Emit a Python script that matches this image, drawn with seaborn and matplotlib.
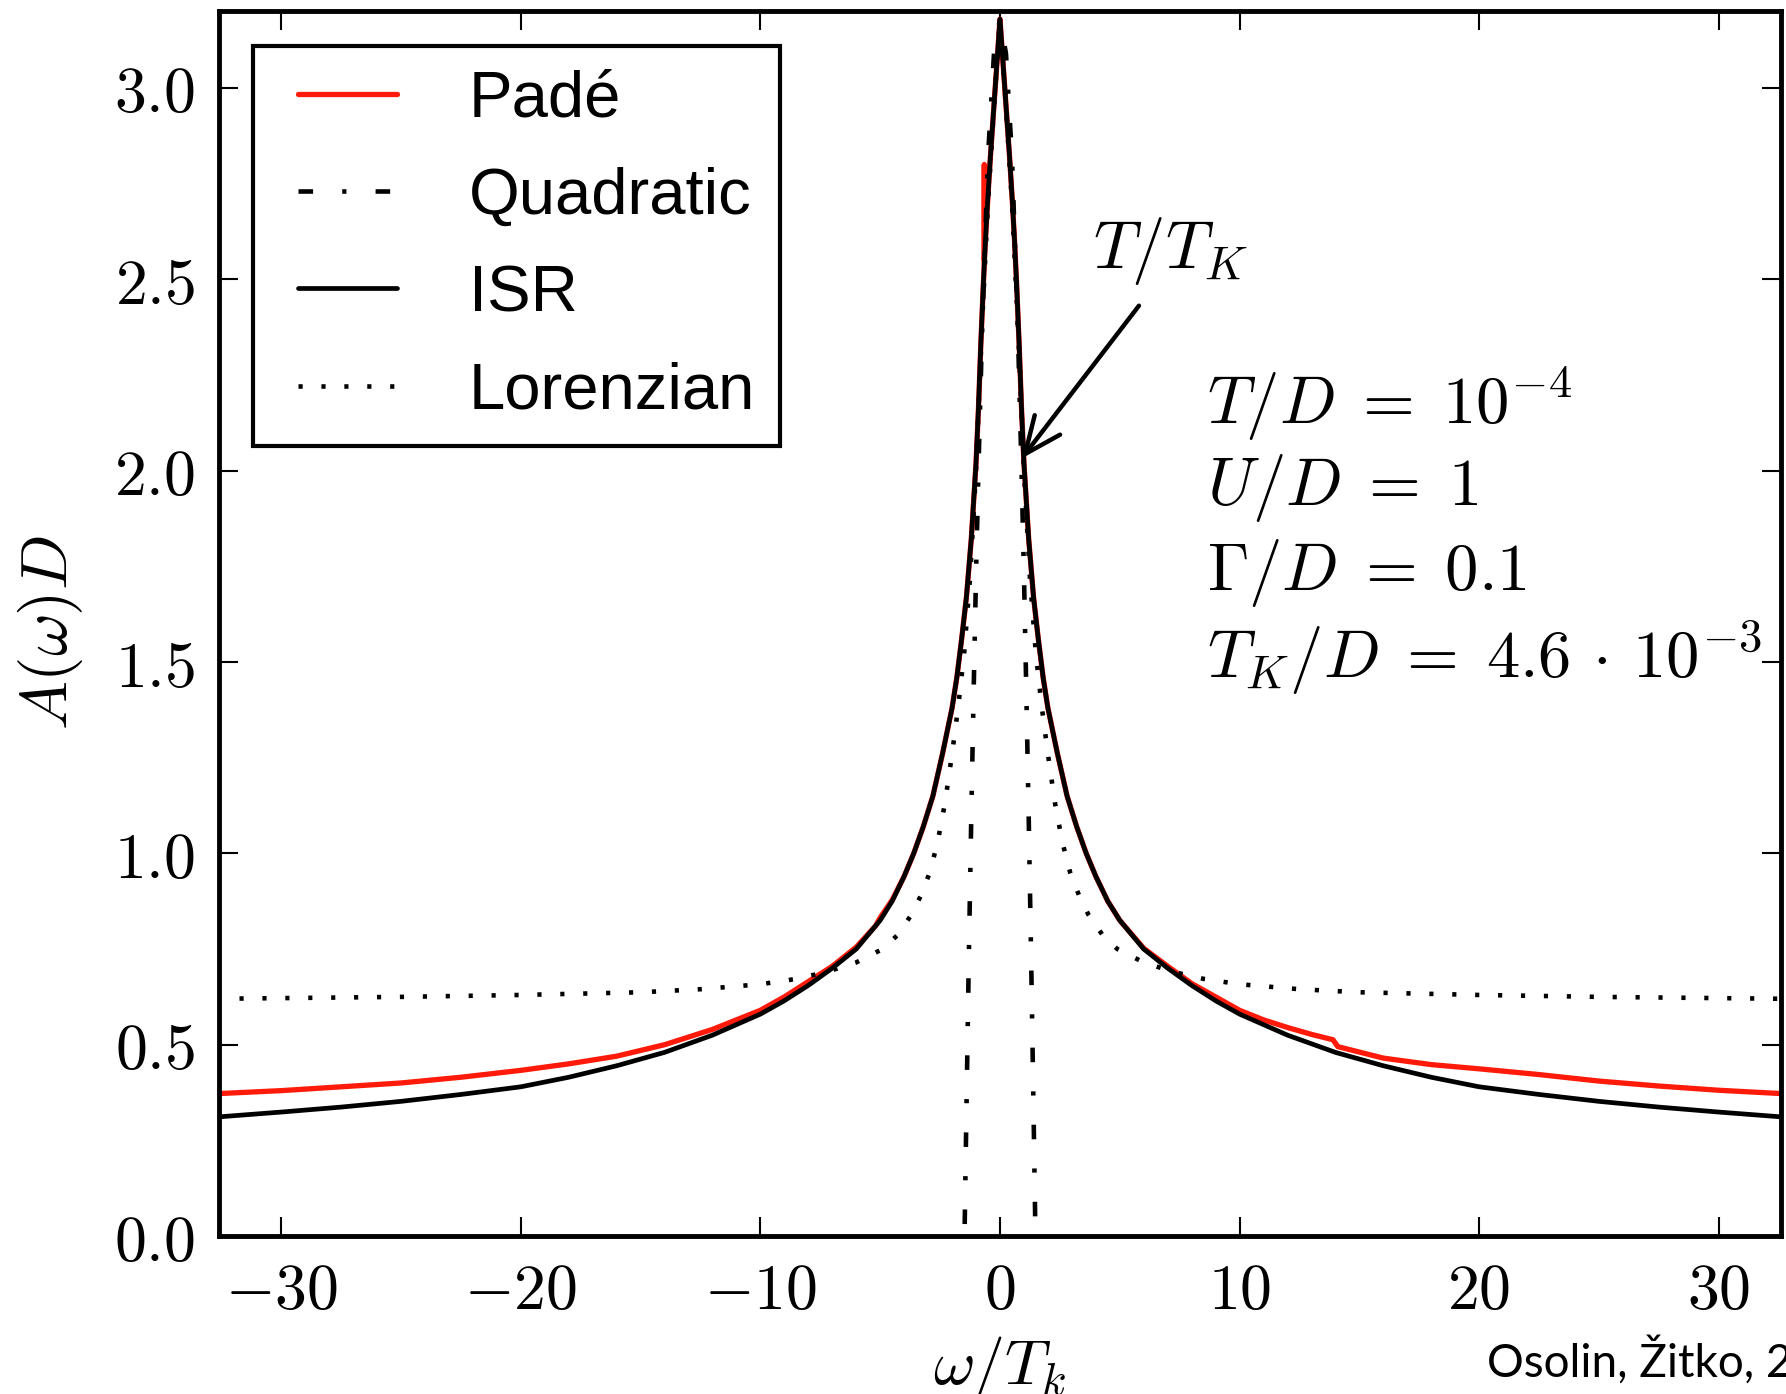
import numpy as np
import pandas as pd
import matplotlib
matplotlib.use("Agg")
import matplotlib.pyplot as plt
import seaborn as sns
from matplotlib.ticker import FuncFormatter, FixedLocator
from matplotlib.lines import Line2D
from matplotlib.legend_handler import HandlerLine2D

# ---------------- data ----------------
omega_isr = [-32.7, -30, -27.5, -25, -22.5, -20, -18, -16, -14, -12, -10, -9, -8, -7, -6,
             -5, -4.5, -4, -3.6, -3.2, -2.8, -2.4, -2.0, -1.8, -1.6, -1.4, -1.2, -1.0,
             -0.9, -0.8, -0.7, -0.6, -0.5, -0.4, -0.3, -0.2, -0.1, 0,
             0.1, 0.2, 0.3, 0.4, 0.5, 0.6, 0.7, 0.8, 0.9, 1.0, 1.2, 1.4, 1.6, 1.8, 2.0,
             2.4, 2.8, 3.2, 3.6, 4.0, 4.5, 5.0, 6, 7, 8, 9, 10, 12, 14, 16, 18, 20,
             22.5, 25, 27.5, 30, 32.7]
a_isr = [0.311, 0.324, 0.337, 0.352, 0.37, 0.39, 0.415, 0.445, 0.48, 0.525, 0.58, 0.615,
         0.655, 0.70, 0.75, 0.825, 0.875, 0.94, 1.00, 1.07, 1.15, 1.26, 1.38, 1.46, 1.56,
         1.67, 1.82, 2.02, 2.16, 2.33, 2.48, 2.61, 2.72, 2.82, 2.91, 3.00, 3.09, 3.18,
         3.09, 3.00, 2.91, 2.82, 2.72, 2.61, 2.48, 2.33, 2.16, 2.02, 1.82, 1.67, 1.56,
         1.46, 1.38, 1.26, 1.15, 1.07, 1.00, 0.94, 0.875, 0.825, 0.75, 0.70, 0.655,
         0.615, 0.58, 0.525, 0.48, 0.445, 0.415, 0.39, 0.37, 0.352, 0.337, 0.324, 0.311]

omega_pade = [-32.7, -30, -27.5, -25, -22.5, -20, -18, -16, -14, -12, -10, -9, -8, -7, -6,
              -5.2, -5.0, -4.5, -4, -3.6, -3.2, -2.8, -2.4, -2.0, -1.8, -1.6, -1.4, -1.2,
              -1.0, -0.9, -0.8, -0.7, -0.66, -0.655, -0.65, -0.6, -0.5, -0.4, -0.3, -0.2,
              -0.1, 0, 0.1, 0.2, 0.3, 0.4, 0.5, 0.6, 0.7, 0.8, 0.9, 1.0, 1.2, 1.4, 1.6,
              1.8, 2.0, 2.4, 2.8, 3.2, 3.6, 4.0, 4.5, 5.0, 6, 7, 8, 9, 10, 11, 12, 13,
              13.9, 14.1, 16, 18, 20, 22.5, 25, 27.5, 30, 32.7]
a_pade = [0.372, 0.38, 0.39, 0.40, 0.415, 0.433, 0.45, 0.47, 0.50, 0.54, 0.59, 0.625,
          0.665, 0.705, 0.755, 0.81, 0.832, 0.878, 0.94, 1.00, 1.07, 1.15, 1.26, 1.38,
          1.46, 1.56, 1.67, 1.82, 2.02, 2.16, 2.33, 2.48, 2.53, 2.80, 2.55, 2.61, 2.72,
          2.82, 2.91, 3.00, 3.09, 3.18, 3.09, 3.00, 2.91, 2.82, 2.72, 2.61, 2.48, 2.33,
          2.16, 2.02, 1.82, 1.67, 1.56, 1.46, 1.38, 1.26, 1.15, 1.07, 1.00, 0.94, 0.875,
          0.825, 0.752, 0.705, 0.66, 0.625, 0.59, 0.565, 0.545, 0.527, 0.513, 0.495,
          0.465, 0.448, 0.437, 0.422, 0.405, 0.392, 0.381, 0.372]

omega_quad = [-1.52, -1.48, -1.4, -1.3, -1.2, -1.1, -1.0, -0.9, -0.75, -0.5, -0.25, 0,
              0.25, 0.5, 0.75, 0.9, 1.0, 1.1, 1.2, 1.3, 1.4, 1.48, 1.52]
a_quad = [-0.17, 0.0, 0.33, 0.73, 1.09, 1.42, 1.73, 2.00, 2.36, 2.82, 3.09, 3.18,
          3.09, 2.82, 2.36, 2.00, 1.73, 1.42, 1.09, 0.73, 0.33, 0.0, -0.17]

omega_lor = [-32.7, -25, -20, -15, -12.5, -10, -8.5, -7.25, -6, -4.9, -4.3, -3.69, -3.3,
             -2.93, -2.6, -2.3, -2.0, -1.75, -1.5, -1.25, -1.0, -0.75, -0.5, -0.25, 0,
             0.25, 0.5, 0.75, 1.0, 1.25, 1.5, 1.75, 2.0, 2.3, 2.6, 2.93, 3.3, 3.69, 4.3,
             4.9, 6, 7.25, 8.5, 10, 12.5, 15, 20, 25, 32.7]
a_lor = [0.62, 0.625, 0.63, 0.637, 0.645, 0.658, 0.672, 0.69, 0.715, 0.75, 0.785, 0.84,
         0.89, 0.95, 1.03, 1.13, 1.26, 1.38, 1.52, 1.72, 2.00, 2.38, 2.70, 2.95, 3.18,
         2.95, 2.70, 2.38, 2.00, 1.72, 1.52, 1.38, 1.26, 1.13, 1.03, 0.95, 0.89, 0.84,
         0.785, 0.75, 0.715, 0.69, 0.672, 0.658, 0.645, 0.637, 0.63, 0.625, 0.62]

x_ticks = [-30, -20, -10, 0, 10, 20, 30]
y_ticks = [0.0, 0.5, 1.0, 1.5, 2.0, 2.5, 3.0]
series_labels = ["Padé", "Quadratic", "ISR", "Lorenzian"]
param_lines = [r"$T/D\;=\;10^{-4}$", r"$U/D\;=\;1$", r"$\Gamma/D\;=\;0.1$",
               r"$T_K/D\;=\;4.6\,\cdot\,10^{-3}$"]

# ---------------- style ----------------
sns.set_style("ticks")
plt.rcParams.update({
    "mathtext.fontset": "cm",
    "font.family": ["DejaVu Sans"],
    "text.color": "black",
    "axes.labelcolor": "black",
    "lines.scale_dashes": False,
    "axes.linewidth": 3.5,
    "axes.edgecolor": "black",
    "xtick.direction": "in", "ytick.direction": "in",
    "xtick.top": True, "ytick.right": True,
    "xtick.major.size": 14, "ytick.major.size": 14,
    "xtick.major.width": 1.5, "ytick.major.width": 1.5,
    "xtick.color": "black", "ytick.color": "black",
    "xtick.labelcolor": "black", "ytick.labelcolor": "black",
})

fig = plt.figure(figsize=(17.86, 13.94), dpi=100)
ax = fig.add_axes([0.1226, 0.1133, 0.8746, 0.8785])

df_pade = pd.DataFrame({"omega": omega_pade, "A": a_pade})
df_quad = pd.DataFrame({"omega": omega_quad, "A": a_quad})
df_isr = pd.DataFrame({"omega": omega_isr, "A": a_isr})
df_lor = pd.DataFrame({"omega": omega_lor, "A": a_lor})

sns.lineplot(data=df_pade, x="omega", y="A", ax=ax, sort=False, estimator=None,
             color="#ff1a0a", lw=3.8, label=series_labels[0], legend=False)
sns.lineplot(data=df_quad, x="omega", y="A", ax=ax, sort=False, estimator=None,
             color="black", lw=3.3, linestyle=(0, (10.5, 21, 3, 21)),
             label=series_labels[1], legend=False)
sns.lineplot(data=df_isr, x="omega", y="A", ax=ax, sort=False, estimator=None,
             color="black", lw=3.4, label=series_labels[2], legend=False)
sns.lineplot(data=df_lor, x="omega", y="A", ax=ax, sort=False, estimator=None,
             color="black", lw=3.3, linestyle=(0, (3, 13.5)),
             label=series_labels[3], legend=False)

ax.set_xlim(-32.6, 32.6)
ax.set_ylim(0, 3.2)
ax.xaxis.set_major_locator(FixedLocator(x_ticks))
ax.yaxis.set_major_locator(FixedLocator(y_ticks))
ax.xaxis.set_major_formatter(FuncFormatter(lambda v, p: r"$%d$" % round(v)))
ax.yaxis.set_major_formatter(FuncFormatter(lambda v, p: r"$%.1f$" % v))
ax.tick_params(axis="both", which="major", labelsize=46, pad=17)
for s in ax.spines.values():
    s.set_linewidth(3.5)
    s.set_visible(True)

ax.set_xlabel(r"$\omega/T_k$", fontsize=46)
ax.xaxis.label.set_va("baseline")
ax.xaxis.set_label_coords(0.5, -0.1204)
ax.set_ylabel(r"$A(\omega)D$", fontsize=47)
ax.yaxis.label.set_va("center")
ax.yaxis.set_label_coords(-0.108, 0.493)

# legend
handles = ax.get_lines()[:4]
leg = ax.legend(handles, series_labels, loc="upper left",
                bbox_to_anchor=(0.0218, 0.972), borderaxespad=0,
                prop={"family": "Liberation Sans", "size": 47},
                handlelength=1.84, handletextpad=1.1, labelspacing=0.57,
                borderpad=0.37, fancybox=False, framealpha=1, edgecolor="black",
                handler_map={Line2D: HandlerLine2D(xpad=0.32)})
leg.get_frame().set_linewidth(3.0)
for t in leg.get_texts():
    t.set_color("black")

# annotations
y_base = [2.121, 1.910, 1.687, 1.458]
for txt, yb in zip(param_lines, y_base):
    ax.text(8.65, yb, txt, fontsize=48, ha="left", va="baseline", clip_on=False)

ax.text(3.89, 2.529, r"$T/T_K$", fontsize=48, ha="left", va="baseline")
ax.annotate("", xy=(0.906, 2.032), xytext=(5.80, 2.431),
            arrowprops=dict(arrowstyle="->,head_length=0.55,head_width=0.24",
                            color="black", lw=3.2, shrinkA=0, shrinkB=0,
                            mutation_scale=48))

fig.text(0.8324, 0.0124, "Osolin, Žitko, 2013", fontsize=33,
         family=["Lato", "DejaVu Sans"], ha="left", va="baseline")

fig.savefig("out.png", dpi=100, facecolor="white")
